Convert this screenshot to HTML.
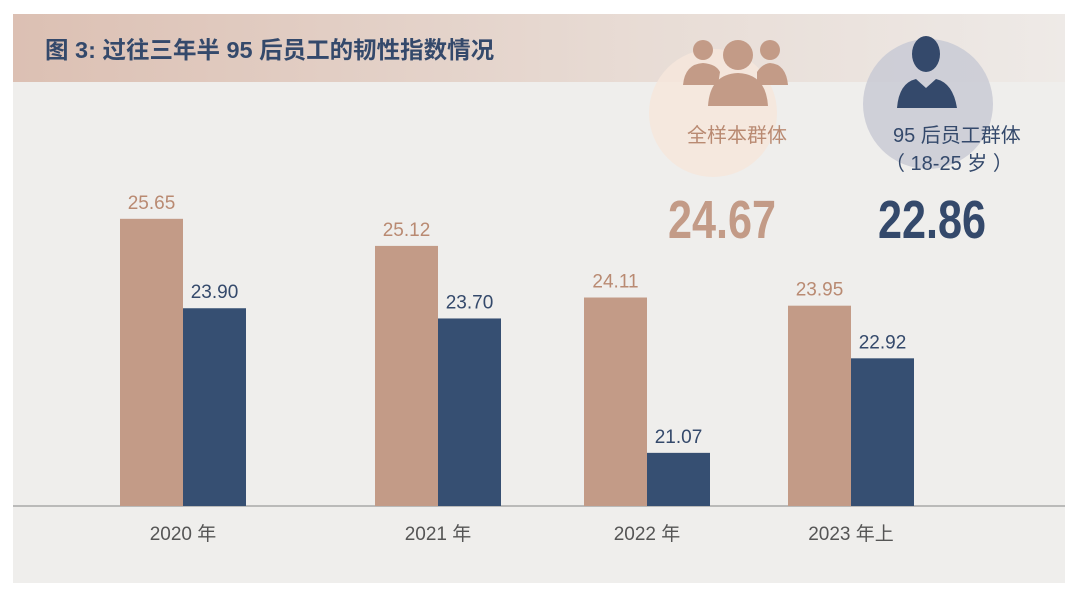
<!DOCTYPE html>
<html><head><meta charset="utf-8"><style>
body{margin:0;background:#fff;width:1080px;height:601px;overflow:hidden;font-family:"Liberation Sans","Noto Sans CJK SC",sans-serif}
</style></head><body>
<svg id="c" width="1080" height="601" xmlns="http://www.w3.org/2000/svg">
<defs><linearGradient id="tg" x1="0" x2="1"><stop offset="0" stop-color="#dcc0b3"/><stop offset="0.6" stop-color="#e8dcd5"/><stop offset="1" stop-color="#eeeae7"/></linearGradient></defs>
<rect x="13" y="14" width="1052" height="569" fill="#efeeec"/>
<rect x="13" y="14" width="1052" height="68" fill="url(#tg)"/>
<text x="45" y="58" font-size="23.5" font-weight="bold" fill="#34496b">图 3: 过往三年半 95 后员工的韧性指数情况</text>
<circle cx="713" cy="113" r="64" fill="#f6e6dc" opacity="0.85"/>
<circle cx="928" cy="104" r="65" fill="#c9cad5" opacity="0.85"/>
<g fill="#c39b87">
<circle cx="703" cy="50" r="10"/><path d="M683 85 Q685 64 703 63 Q716 64 720 72 L718 85Z"/>
<circle cx="770" cy="50" r="10"/><path d="M757 72 Q762 64 770 63 Q786 64 788 85 L757 85Z"/>
<circle cx="738" cy="55" r="15"/><path d="M708 106 Q710 74 738 73 Q766 74 768 106Z"/>
</g>
<g fill="#34496b">
<ellipse cx="926" cy="54" rx="14" ry="18"/><path d="M897 108 Q899 83 916 79 L926 88 L936 79 Q953 83 957 108Z"/>
</g>
<text x="737" y="142" font-size="20" fill="#b98a72" text-anchor="middle">全样本群体</text>
<text x="893" y="142" font-size="20" fill="#34496b">95 后员工群体</text>
<text x="885" y="170" font-size="20" fill="#34496b">（ 18-25 岁 ）</text>
<text x="722" y="238" font-size="54" font-weight="bold" fill="#c39b87" text-anchor="middle" transform="translate(722 0) scale(0.8 1) translate(-722 0)">24.67</text>
<text x="932" y="238" font-size="54" font-weight="bold" fill="#34496b" text-anchor="middle" transform="translate(932 0) scale(0.8 1) translate(-932 0)">22.86</text>
<line x1="13" y1="506" x2="1065" y2="506" stroke="#9a9a9a" stroke-width="1.2"/>
</svg>
<script>
const categories=["2020 年","2021 年","2022 年","2023 年上"];
const allSample=[25.65,25.12,24.11,23.95];
const gen95=[23.90,23.70,21.07,22.92];
const svg=document.getElementById('c');
const NS='http://www.w3.org/2000/svg';
const base=506, yMin=20.03, pxPer=51.1, bw=63;
const centers=[183,438,647,851];
function y(v){return base-(v-yMin)*pxPer;}
function mk(tag,attrs){const e=document.createElementNS(NS,tag);for(const k in attrs)e.setAttribute(k,attrs[k]);svg.appendChild(e);return e;}
categories.forEach((c,i)=>{
  const cx=centers[i];
  const series=[[allSample[i],cx-bw,'#c39b87','#b98a72','all'],[gen95[i],cx,'#364f72','#34496b','gen95']];
  series.forEach(s=>{
    const r=mk('rect',{x:s[1],y:y(s[0]),width:bw,height:base-y(s[0]),fill:s[2]});
    
    
    const t=mk('text',{x:s[1]+bw/2,y:y(s[0])-10,'font-size':19,fill:s[3],'text-anchor':'middle'});
    t.textContent=s[0].toFixed(2);
    
    
  });
  const l=mk('text',{x:cx,y:540,'font-size':19,fill:'#555','text-anchor':'middle'});
  l.textContent=c;
  
  
});
</script>
</body></html>
